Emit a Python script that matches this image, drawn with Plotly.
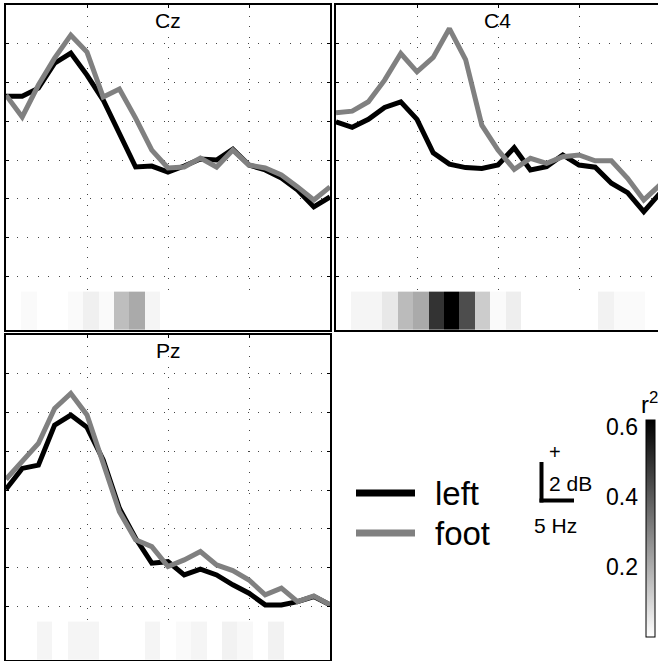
import plotly.graph_objects as go

W, H = 658, 661

# ---------------- data ----------------
freq = [0, 2, 4, 6, 8, 10, 12, 14, 16, 18, 20, 22, 24, 26, 28, 30, 32, 34, 36, 38, 40]

cz_left = [3.28, 3.28, 3.69, 4.97, 5.49, 4.36, 3.08, 1.38, -0.36, -0.31, -0.62,
           -0.31, 0.05, 0.00, 0.56, -0.26, -0.51, -0.92, -1.54, -2.41, -1.90]
cz_foot = [3.33, 2.21, 3.85, 5.23, 6.41, 5.54, 3.23, 3.64, 2.15, 0.51, -0.41,
           -0.36, 0.10, -0.36, 0.51, -0.26, -0.41, -0.77, -1.38, -2.05, -1.38]

c4_left = [1.96, 1.68, 2.09, 2.70, 2.99, 2.09, 0.37, -0.21, -0.39, -0.43, -0.26,
           0.63, -0.51, -0.34, 0.26, -0.26, -0.37, -1.19, -1.68, -2.65, -1.71]
c4_foot = [2.43, 2.51, 2.99, 4.10, 5.47, 4.53, 5.27, 6.75, 5.16, 1.79, 0.51,
           -0.48, 0.09, -0.17, 0.17, 0.26, -0.04, -0.04, -0.94, -2.05, -1.28]

pz_left = [0.04, 1.11, 1.28, 3.33, 3.85, 3.22, 1.54, -0.94, -2.48, -3.76, -3.68,
           -4.36, -4.07, -4.36, -4.87, -5.30, -5.90, -5.90, -5.73, -5.47, -5.90]
pz_foot = [0.55, 1.45, 2.39, 4.19, 4.96, 3.85, 1.45, -1.11, -2.56, -2.91, -3.93,
           -3.59, -3.16, -3.85, -4.14, -4.62, -5.38, -5.04, -5.73, -5.44, -5.90]

# r^2 per frequency bin (strip at the bottom of each panel)
cz_r2 = [0.0, 0.012, 0.0, 0.0, 0.012, 0.036, 0.012, 0.158, 0.207, 0.024, 0.0,
         0.0, 0.0, 0.0, 0.0, 0.0, 0.0, 0.0, 0.0, 0.0, 0.0]
c4_r2 = [0.0, 0.024, 0.024, 0.056, 0.165, 0.207, 0.496, 0.62, 0.433, 0.124, 0.012,
         0.041, 0.0, 0.0, 0.0, 0.0, 0.0, 0.032, 0.012, 0.012, 0.0]
pz_r2 = [0.0, 0.0, 0.024, 0.0, 0.024, 0.024, 0.0, 0.0, 0.0, 0.024, 0.0,
         0.012, 0.024, 0.0, 0.032, 0.017, 0.0, 0.032, 0.0, 0.0, 0.0]

channels = ["Cz", "C4", "Pz"]
series_names = ["left", "foot"]
series_colors = ["#000000", "#808080"]
r2_ticks = [0.2, 0.4, 0.6]
r2_max = 0.62
db_ticks = [-6, -4, -2, 0, 2, 4, 6]
hz_ticks = [10, 20, 30]
y_range = [-8.73, 7.96]
strip_edges = [-8.73, -6.76]

FONT = "Liberation Sans, Arial, Helvetica, sans-serif"

def px_x(p):
    return p / W

def px_y(p):
    return 1 - p / H

panels = {
    "Cz": dict(left=cz_left, foot=cz_foot, r2=cz_r2, ax="", dx=(6, 330), dy=(5, 330)),
    "C4": dict(left=c4_left, foot=c4_foot, r2=c4_r2, ax="2", dx=(336, 660), dy=(5, 330)),
    "Pz": dict(left=pz_left, foot=pz_foot, r2=pz_r2, ax="3", dx=(6, 330), dy=(335, 660)),
}

fig = go.Figure()
n = len(freq)
span = freq[-1] - freq[0]
for ch in channels:
    p = panels[ch]
    xa, ya = "x" + p["ax"], "y" + p["ax"]
    fig.add_trace(go.Heatmap(
        z=[p["r2"]], x0=freq[0] + span / (2 * n), dx=span / n,
        y=strip_edges, coloraxis="coloraxis", xaxis=xa, yaxis=ya,
        hoverinfo="skip"))
    for name, col in zip(series_names, series_colors):
        fig.add_trace(go.Scatter(x=freq, y=p[name], mode="lines", name=name,
                                 line=dict(color=col, width=5), xaxis=xa, yaxis=ya,
                                 showlegend=False))

# empty trace so that the colour-bar label axis gets drawn
fig.add_trace(go.Scatter(x=[], y=[], xaxis="x4", yaxis="y4", showlegend=False,
                         hoverinfo="skip"))

axis_common = dict(showline=True, linecolor="black", linewidth=2, ticks="inside",
                   ticklen=3, tickcolor="black", showticklabels=False,
                   showgrid=True, gridcolor="#444444", gridwidth=1, griddash="1px,9.5px",
                   zeroline=False)

layout = {}
for ch in channels:
    p = panels[ch]
    x0p, x1p = p["dx"]
    y0p, y1p = p["dy"]
    x_dom_end = min(x1p, W)
    xr_end = freq[0] + span * (x_dom_end - x0p) / (x1p - x0p)
    xname = "xaxis" + p["ax"]
    yname = "yaxis" + p["ax"]
    layout[xname] = dict(axis_common, domain=[px_x(x0p), px_x(x_dom_end)],
                         range=[freq[0], xr_end], tickvals=hz_ticks, side="top",
                         mirror=True, anchor="y" + p["ax"])
    layout[yname] = dict(axis_common, domain=[px_y(y1p), px_y(y0p)], range=y_range,
                         tickvals=db_ticks, mirror=("ticks" if x1p <= W else False),
                         anchor="x" + p["ax"])

# axis used only for colour bar tick labels (on the left of the bar)
cb_top, cb_bot, cb_left, cb_right = 420, 637, 646, 655
layout["xaxis4"] = dict(domain=[px_x(cb_left), px_x(cb_right)], visible=False,
                        range=[0, 1], anchor="y4", fixedrange=True)
layout["yaxis4"] = dict(domain=[px_y(cb_bot), px_y(cb_top)], range=[0, r2_max],
                        tickvals=r2_ticks, ticktext=[f"{t:.1f}" for t in r2_ticks],
                        showgrid=False, zeroline=False, showline=False, ticks="",
                        side="left", anchor="x4", ticklabelstandoff=7, fixedrange=True,
                        tickfont=dict(size=23, color="black", family=FONT))

fig.update_layout(**layout)

fig.update_layout(
    width=W, height=H, margin=dict(l=0, r=0, t=0, b=0, autoexpand=False),
    paper_bgcolor="white", plot_bgcolor="white",
    font=dict(family=FONT, color="black"),
    showlegend=False,
    coloraxis=dict(colorscale=[[0, "#ffffff"], [1, "#000000"]], cmin=0, cmax=r2_max,
                   showscale=True,
                   colorbar=dict(x=px_x(cb_left), xanchor="left", thickness=cb_right - cb_left,
                                 thicknessmode="pixels", len=cb_bot - cb_top, lenmode="pixels",
                                 y=px_y(cb_top), yanchor="top", ypad=0, xpad=0,
                                 outlinewidth=1, outlinecolor="black",
                                 showticklabels=False, ticks="")),
)

annotations = []
for ch in channels:
    p = panels[ch]
    annotations.append(dict(text=ch, xref="x" + p["ax"] + " domain",
                            yref="y" + p["ax"] + " domain", x=0.5,
                            y=1, yanchor="middle", yshift=-16, showarrow=False,
                            font=dict(size=21, family=FONT, color="black")))

# legend (manual, to match long line keys)
leg_y = [493, 533]
shapes = []
for name, col, yy in zip(series_names, series_colors, leg_y):
    shapes.append(dict(type="line", xref="paper", yref="paper", x0=px_x(356), x1=px_x(415),
                       y0=px_y(yy), y1=px_y(yy), line=dict(color=col, width=7)))
    annotations.append(dict(text=name, xref="paper", yref="paper", x=px_x(433), y=px_y(yy),
                            xanchor="left", yanchor="middle", showarrow=False,
                            font=dict(size=33, family=FONT, color="black")))

# scale bar
shapes.append(dict(type="line", xref="paper", yref="paper", x0=px_x(541.5), x1=px_x(541.5),
                   y0=px_y(462), y1=px_y(502.5), line=dict(color="black", width=4)))
shapes.append(dict(type="line", xref="paper", yref="paper", x0=px_x(539.5), x1=px_x(574),
                   y0=px_y(500.5), y1=px_y(500.5), line=dict(color="black", width=4)))
annotations.append(dict(text="+", xref="paper", yref="paper", x=px_x(555), y=px_y(452),
                        xanchor="center", yanchor="middle", showarrow=False,
                        font=dict(size=20, family=FONT, color="black")))
annotations.append(dict(text="2 dB", xref="paper", yref="paper", x=px_x(547), y=px_y(483),
                        xanchor="left", yanchor="middle", showarrow=False,
                        font=dict(size=21, family=FONT, color="black")))
annotations.append(dict(text="5 Hz", xref="paper", yref="paper", x=px_x(532), y=px_y(525),
                        xanchor="left", yanchor="middle", showarrow=False,
                        font=dict(size=21, family=FONT, color="black")))
# colour bar title
annotations.append(dict(text="r<sup>2</sup>", xref="paper", yref="paper", x=px_x(649),
                        y=px_y(403), xanchor="center", yanchor="middle", showarrow=False,
                        font=dict(size=24, family=FONT, color="black")))

fig.update_layout(annotations=annotations, shapes=shapes)

fig.write_html("out.html", config={"displayModeBar": False},
               post_script="document.body.style.margin='0';")
